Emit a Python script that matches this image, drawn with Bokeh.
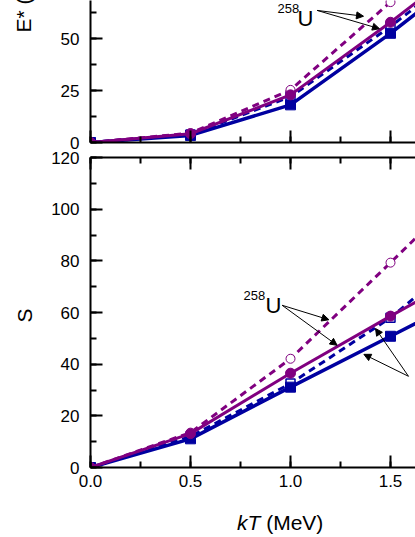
from bokeh.plotting import figure
from bokeh.models import (Range1d, LinearAxis, SingleIntervalTicker, PrintfTickFormatter,
                          Label, Arrow, NormalHead, Div)
from bokeh.layouts import column
from bokeh.embed import file_html
from bokeh.resources import INLINE

# ---------------- data ----------------
kT = [0.0, 0.5, 1.0, 1.5, 2.0]

# excitation energy E* (MeV)
E_purple_dash = [0.0, 4.5, 25.3, 67.5, 110.0]
E_purple_solid = [0.0, 4.2, 22.9, 57.8, 95.0]
E_blue_dash = [0.0, 3.8, 22.0, 55.8, 93.0]
E_blue_solid = [0.0, 3.4, 18.1, 52.5, 90.0]

# entropy S
S_purple_dash = [0.0, 13.5, 42.1, 79.3, 117.0]
S_purple_solid = [0.0, 13.1, 36.5, 58.6, 80.0]
S_blue_dash = [0.0, 12.0, 32.5, 58.0, 90.0]
S_blue_solid = [0.0, 11.1, 31.1, 50.8, 70.5]

PURPLE = "#800080"
BLUE = "#0000a0"
FONT = "Liberation Sans"
NB = "\u00a0"


def style_axis(ax, labels=True):
    ax.axis_line_width = 2
    ax.axis_line_color = "black"
    ax.major_tick_line_width = 2
    ax.minor_tick_line_width = 2
    ax.major_tick_in = 12
    ax.major_tick_out = 0
    ax.minor_tick_in = 6
    ax.minor_tick_out = 0
    ax.major_label_text_font = FONT
    ax.major_label_text_color = "black"
    ax.axis_label_text_font = FONT
    ax.axis_label_text_font_style = "normal"
    ax.axis_label_text_font_size = "21px"
    ax.axis_label_text_color = "black"
    if labels:
        ax.major_label_text_font_size = "17px"
    else:
        ax.major_label_text_font_size = "0px"
        ax.major_label_text_color = None
        ax.major_label_text_alpha = 0
        ax.major_label_standoff = 0


def make_fig(frame_h, ymax, min_top, min_bottom, yint):
    p = figure(frame_width=325, frame_height=frame_h,
               x_range=Range1d(0, 1.625), y_range=Range1d(0, ymax),
               output_backend="svg", toolbar_location=None,
               min_border_left=90, min_border_right=0,
               min_border_top=min_top, min_border_bottom=min_bottom,
               outline_line_color=None, background_fill_color="white",
               border_fill_color="white")
    p.grid.visible = False
    p.xaxis.ticker = SingleIntervalTicker(interval=0.5, num_minor_ticks=2)
    p.yaxis.ticker = SingleIntervalTicker(interval=yint, num_minor_ticks=2)
    for ax in p.yaxis:
        style_axis(ax)
        ax.major_label_standoff = 11
    return p


def draw_series(p, pd, ps, bd, bs):
    p.line(kT, bd, line_color=BLUE, line_width=3, line_dash="7 5")
    p.scatter(kT, bd, marker="square", size=9, fill_color="white", line_color=BLUE, line_width=1.5)
    p.line(kT, bs, line_color=BLUE, line_width=3.5)
    p.scatter(kT, bs, marker="square", size=10, fill_color=BLUE, line_color=BLUE)
    p.line(kT, pd, line_color=PURPLE, line_width=3, line_dash="7 5")
    p.scatter(kT, pd, marker="circle", size=9, fill_color="white", line_color=PURPLE, line_width=1)
    p.line(kT, ps, line_color=PURPLE, line_width=3)
    p.scatter(kT, ps, marker="circle", size=10, fill_color=PURPLE, line_color=PURPLE)


def arrow(p, x0, y0, x1, y1):
    p.add_layout(Arrow(x_start=x0, y_start=y0, x_end=x1, y_end=y1, line_width=1, line_color="black",
                       end=NormalHead(size=7, fill_color="black", line_color="black", line_width=1)))


def iso_label(p, x_num, y_num, x_sym, y_sym):
    p.add_layout(Label(x=x_num, y=y_num, text="258", text_font=FONT, text_font_size="13px",
                       text_align="left", text_baseline="alphabetic", text_color="black"))
    p.add_layout(Label(x=x_sym, y=y_sym, text="U", text_font=FONT, text_font_size="22px",
                       text_align="left", text_baseline="alphabetic", text_color="black"))


# ---------------- top panel: E* ----------------
p1 = make_fig(142, 68.27, 0, 9, 25)
for ax in p1.xaxis:
    style_axis(ax, labels=False)
p1.yaxis.axis_label = NB * 28 + "E* (MeV)"
p1.yaxis.axis_label_standoff = 23
draw_series(p1, E_purple_dash, E_purple_solid, E_blue_dash, E_blue_solid)
iso_label(p1, 0.935, 64.4, 1.035, 59.6)
arrow(p1, 1.133, 63.5, 1.365, 60.7)
arrow(p1, 1.133, 63.5, 1.445, 54.7)

# ---------------- bottom panel: S ----------------
p2 = make_fig(310, 120, 6, 28, 20)
for ax in p2.xaxis:
    style_axis(ax)
    ax.major_label_standoff = 7
    ax.formatter = PrintfTickFormatter(format="%.1f")
top_ax = LinearAxis(ticker=SingleIntervalTicker(interval=0.5, num_minor_ticks=2))
style_axis(top_ax, labels=False)
p2.add_layout(top_ax, "above")
p2.yaxis.axis_label = "S" + NB
p2.yaxis.axis_label_standoff = 12
draw_series(p2, S_purple_dash, S_purple_solid, S_blue_dash, S_blue_solid)
iso_label(p2, 0.765, 66.7, 0.875, 62.8)
arrow(p2, 0.958, 62.8, 1.192, 57.2)
arrow(p2, 0.958, 62.8, 1.233, 47.3)
arrow(p2, 1.59, 35.3, 1.367, 43.8)
arrow(p2, 1.59, 35.3, 1.425, 53.8)

xlabel = Div(text=('<div style="font-family:\'Liberation Sans\';font-size:21px;color:black;'
                   'padding-left:237px;padding-top:13px;white-space:nowrap;">'
                   '<i>kT</i> (MeV)</div>'),
             width=415, height=42, margin=0)

layout = column(p1, p2, xlabel, spacing=0)
open("out.html", "w").write(file_html(layout, INLINE))
